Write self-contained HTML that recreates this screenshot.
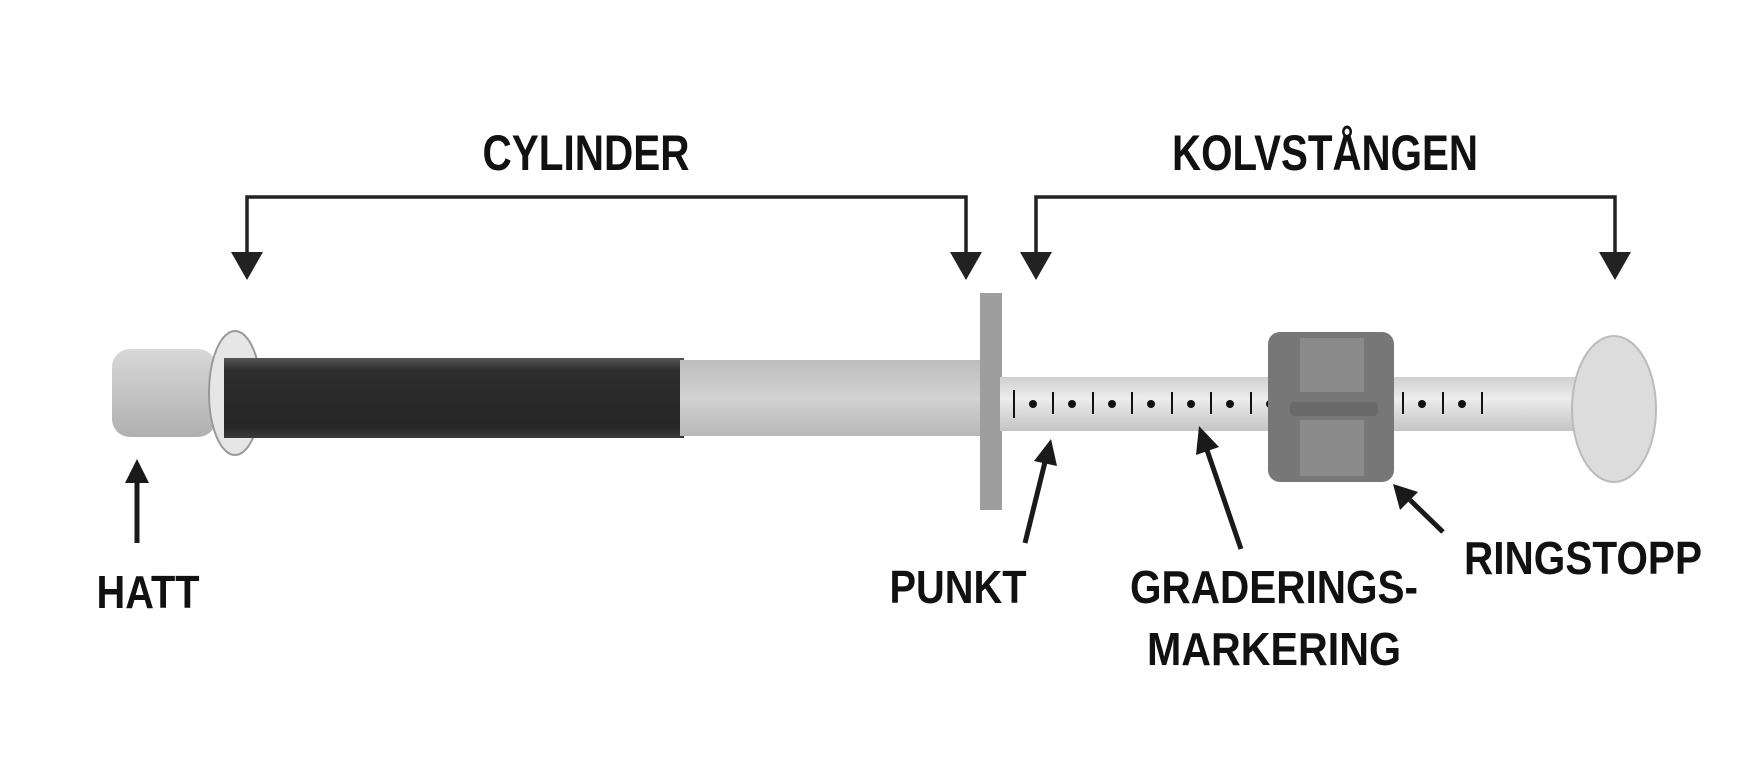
<!DOCTYPE html>
<html><head><meta charset="utf-8"><style>
html,body{margin:0;padding:0;background:#fff;}
svg{display:block}
text{font-family:"Liberation Sans",sans-serif;font-weight:bold;fill:#111;}
</style></head><body>
<svg width="1757" height="769" viewBox="0 0 1757 769" xmlns="http://www.w3.org/2000/svg">
<defs>
<linearGradient id="cap" x1="0" y1="0" x2="0" y2="1"><stop offset="0" stop-color="#d8d8d8"/><stop offset="0.5" stop-color="#c4c4c4"/><stop offset="1" stop-color="#b0b0b0"/></linearGradient>
<linearGradient id="dark" x1="0" y1="0" x2="0" y2="1"><stop offset="0" stop-color="#555"/><stop offset="0.15" stop-color="#2e2e2e"/><stop offset="0.85" stop-color="#262626"/><stop offset="1" stop-color="#3a3a3a"/></linearGradient>
<linearGradient id="light" x1="0" y1="0" x2="0" y2="1"><stop offset="0" stop-color="#bdbdbd"/><stop offset="0.5" stop-color="#d2d2d2"/><stop offset="1" stop-color="#b8b8b8"/></linearGradient>
<linearGradient id="rod" x1="0" y1="0" x2="0" y2="1"><stop offset="0" stop-color="#d0d0d0"/><stop offset="0.4" stop-color="#ececec"/><stop offset="1" stop-color="#c4c4c4"/></linearGradient>
</defs>

<!-- labels -->
<text x="586" y="170" font-size="50" text-anchor="middle" textLength="207" lengthAdjust="spacingAndGlyphs">CYLINDER</text>
<text x="1325" y="170" font-size="50" text-anchor="middle" textLength="306" lengthAdjust="spacingAndGlyphs">KOLVSTÅNGEN</text>

<!-- brackets -->
<g fill="none" stroke="#222" stroke-width="3.5">
<polyline points="247,256 247,197 966,197 966,256"/>
<polyline points="1036,256 1036,197 1615,197 1615,256"/>
</g>
<g fill="#222">
<polygon points="231,252 263,252 247,280"/>
<polygon points="950,252 982,252 966,280"/>
<polygon points="1020,252 1052,252 1036,280"/>
<polygon points="1599,252 1631,252 1615,280"/>
</g>

<!-- syringe -->
<rect x="112" y="349" width="104" height="88" rx="18" fill="url(#cap)"/>
<ellipse cx="235" cy="393" rx="26" ry="62" fill="#e6e6e6" stroke="#999" stroke-width="2"/>
<rect x="224" y="358" width="460" height="80" fill="url(#dark)"/>
<rect x="680" y="360" width="300" height="76" fill="url(#light)"/>
<rect x="980" y="293" width="22" height="217" fill="#9e9e9e"/>
<!-- rod -->
<rect x="1000" y="377" width="585" height="54" fill="url(#rod)"/>
<g fill="#111">
<circle cx="1033" cy="404" r="4"/><circle cx="1072" cy="404" r="4"/><circle cx="1112" cy="404" r="4"/><circle cx="1151" cy="404" r="4"/><circle cx="1191" cy="404" r="4"/><circle cx="1230" cy="404" r="4"/><circle cx="1270" cy="404" r="4"/><circle cx="1422" cy="404" r="4"/><circle cx="1462" cy="404" r="4"/>
<rect x="1013" y="390" width="2" height="28"/><rect x="1052" y="392" width="2" height="22"/><rect x="1092" y="392" width="2" height="22"/><rect x="1131" y="392" width="2" height="22"/><rect x="1171" y="392" width="2" height="22"/><rect x="1210" y="392" width="2" height="22"/><rect x="1250" y="392" width="2" height="22"/><rect x="1402" y="392" width="2" height="22"/><rect x="1442" y="392" width="2" height="22"/><rect x="1481" y="392" width="2" height="22"/>
</g>
<!-- ring stop -->
<rect x="1268" y="332" width="126" height="150" rx="12" fill="#777"/>
<rect x="1300" y="338" width="64" height="54" fill="#8a8a8a"/>
<rect x="1300" y="420" width="64" height="56" fill="#8a8a8a"/>
<rect x="1290" y="402" width="88" height="14" rx="4" fill="#6a6a6a"/>
<!-- plunger head -->
<ellipse cx="1614" cy="409" rx="42" ry="73" fill="#dcdcdc" stroke="#bbb" stroke-width="2"/>

<!-- pointer arrows -->
<g stroke="#1a1a1a" stroke-width="5" fill="#1a1a1a">
<line x1="137" y1="543" x2="137" y2="480"/>
<line x1="1025" y1="543" x2="1045" y2="462"/>
<line x1="1241" y1="549" x2="1207" y2="450"/>
<line x1="1443" y1="532" x2="1410" y2="500"/>
</g>
<g fill="#1a1a1a">
<polygon points="137,459 125,483 149,483"/>
<polygon points="1051,439 1034,461 1057,466"/>
<polygon points="1199,426 1196,455 1219,447"/>
<polygon points="1393,484 1400,510 1418,492"/>
</g>
<text x="148" y="608" font-size="46" text-anchor="middle" textLength="103" lengthAdjust="spacingAndGlyphs">HATT</text>
<text x="958" y="603" font-size="46" text-anchor="middle" textLength="137" lengthAdjust="spacingAndGlyphs">PUNKT</text>
<text x="1274" y="603" font-size="46" text-anchor="middle" textLength="288" lengthAdjust="spacingAndGlyphs">GRADERINGS-</text>
<text x="1274" y="665" font-size="46" text-anchor="middle" textLength="254" lengthAdjust="spacingAndGlyphs">MARKERING</text>
<text x="1583" y="574" font-size="46" text-anchor="middle" textLength="238" lengthAdjust="spacingAndGlyphs">RINGSTOPP</text>
</svg>
</body></html>
